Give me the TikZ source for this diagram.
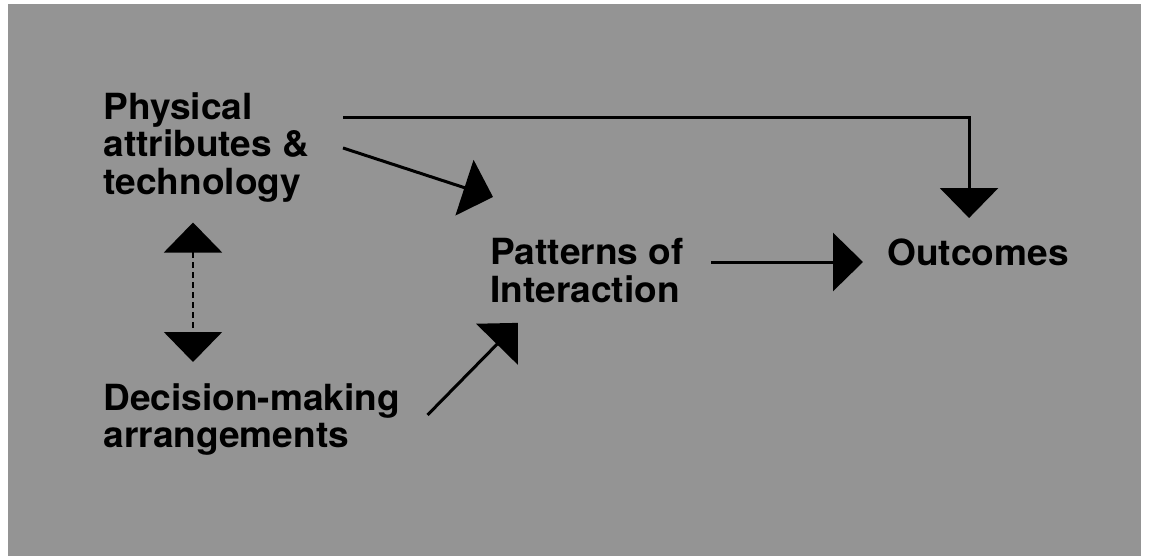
\documentclass[tikz,border=0pt]{standalone}
\usepackage{fontspec}
\newfontfamily\diagfont[FakeStretch=1.03]{TeX Gyre Heros}
\usepackage{tikz}
\usetikzlibrary{arrows.meta,calc}

\begin{document}
\begin{tikzpicture}[x=0.5pt, y=-0.5pt, every node/.style={font=\diagfont\bfseries\fontsize{18}{18.75}\selectfont, inner sep=0pt, align=left, anchor=north west}, conn/.style={-{Triangle[length=15pt, width=29pt]}, line width=1.5pt}, both/.style={{Triangle[length=15pt, width=29pt]}-{Triangle[length=15pt, width=29pt]}, line width=1pt, dash pattern=on 3pt off 2pt}]
\useasboundingbox (0,0) rectangle (1151,556);
\fill[white] (0,0) rectangle (1151,556);
\fill[black!42] (8,4) rectangle (1141,556);
\node (phys) at (103,92) {Physical\\attributes \&\\technology};
\node (decis) at (103,383) {Decision-making\\arrangements};
\node (patt) at (490,238) {Patterns of\\Interaction};
\node (outc) at (887,238) {Outcomes};
\coordinate (topfrom) at (343,118);
\coordinate (slantfrom) at (343,148);
\draw[conn] (topfrom) -| ([xshift=-4.5pt, yshift=10pt]outc.north);
\draw[conn] (slantfrom) -- ([xshift=1.5pt, yshift=20.5pt]patt.north west);
\draw[conn] ([xshift=13.5pt, yshift=-12pt]patt.north east) -- ([xshift=-12pt, yshift=-12pt]outc.north west);
\draw[conn] ([xshift=13.5pt, yshift=-16pt]decis.north east) -- ([xshift=14pt, yshift=-10pt]patt.south west);
\draw[both] ([xshift=45pt, yshift=-10pt]phys.south west) -- ([xshift=45pt, yshift=10.5pt]decis.north west);
\end{tikzpicture}
\end{document}
